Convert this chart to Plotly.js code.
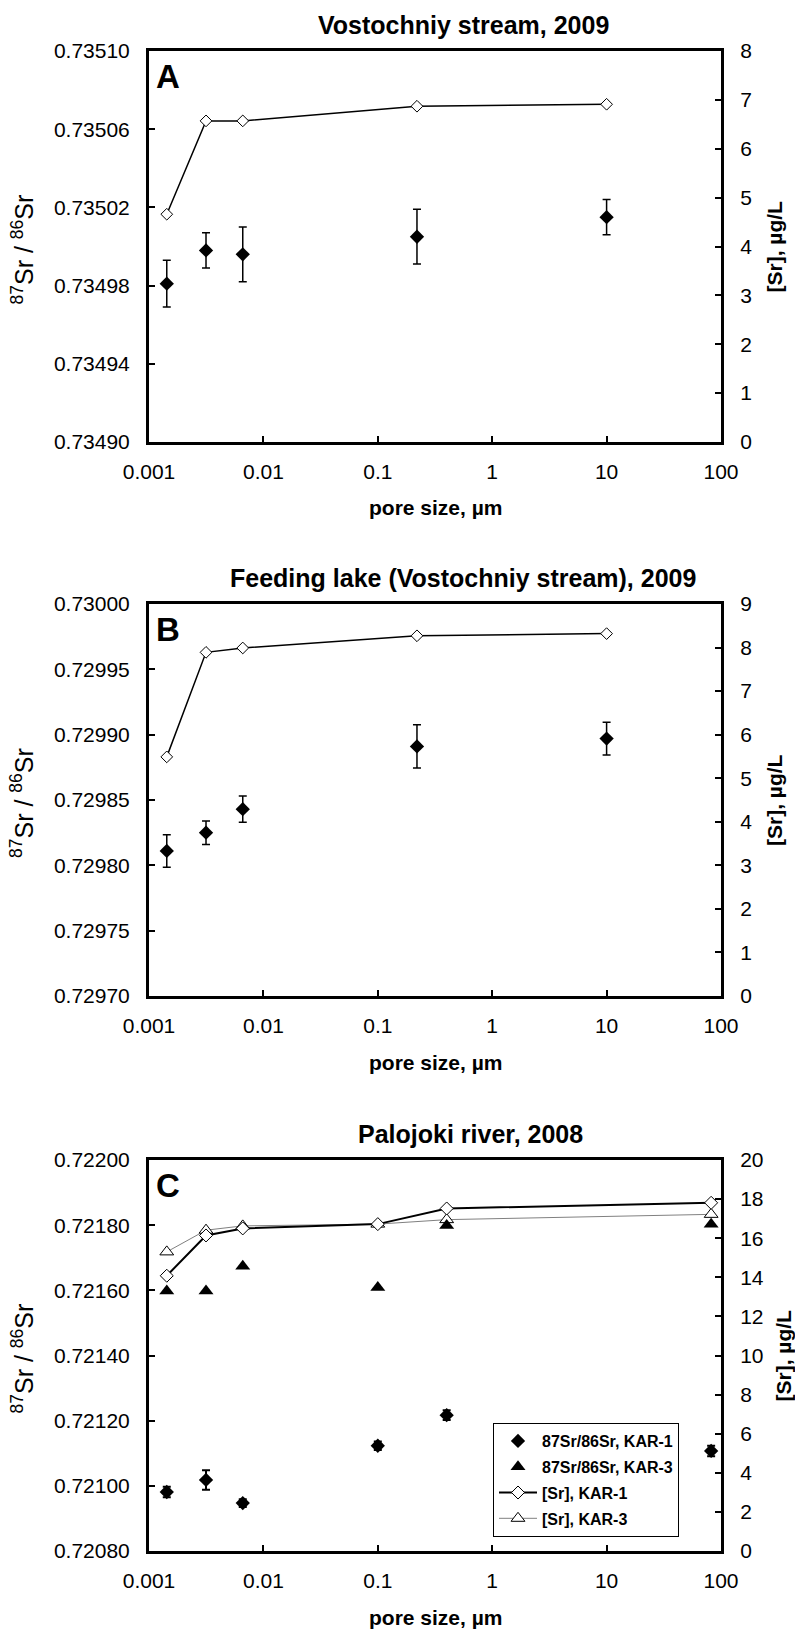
<!DOCTYPE html>
<html>
<head>
<meta charset="utf-8">
<script src="https://cdn.plot.ly/plotly-3.0.1.min.js"></script>
<style>html,body{margin:0;padding:0;background:#fff;}#chart{width:795px;height:1631px;}</style>
</head>
<body>
<div id="chart"></div>
<script>
// ---------- data ----------
const titles = ["Vostochniy stream, 2009", "Feeding lake (Vostochniy stream), 2009", "Palojoki river, 2008"];
const letters = ["A", "B", "C"];
const xTickVals = [0.001, 0.01, 0.1, 1, 10, 100];
const xTickText = ["0.001", "0.01", "0.1", "1", "10", "100"];

// Panel A
const poreA = [0.00143, 0.00315, 0.0066, 0.22, 10];
const ratioA = [0.734981, 0.734998, 0.734996, 0.735005, 0.735015];
const ratioErrA = [0.000012, 0.000009, 0.000014, 0.000014, 0.000009];
const srA = [4.66, 6.57, 6.57, 6.87, 6.91];

// Panel B
const poreB = [0.00143, 0.00315, 0.0066, 0.22, 10];
const ratioB = [0.729811, 0.729825, 0.729843, 0.729891, 0.729897];
const ratioErrB = [0.0000125, 0.000009, 0.000010, 0.0000165, 0.0000125];
const srB = [5.49, 7.89, 7.99, 8.27, 8.32];

// Panel C
const poreC = [0.00143, 0.00315, 0.0066, 0.1, 0.4, 82];
const ratioC1 = [0.720981, 0.721018, 0.720947, 0.721123, 0.721217, 0.721107];
const ratioErrC1 = [0.000016, 0.00003, 0.000012, 0.000013, 0.000015, 0.000016];
const ratioC3 = [0.721598, 0.721598, 0.721674, 0.721609, 0.721799, 0.721803];
const srC1 = [14.08, 16.14, 16.50, 16.72, 17.52, 17.81];
const srC3 = [15.30, 16.41, 16.63, 16.72, 16.95, 17.22];
const legendNames = ["87Sr/86Sr, KAR-1", "87Sr/86Sr, KAR-3", "[Sr], KAR-1", "[Sr], KAR-3"];

// Axis ranges / ticks
const ratioRanges = [[0.73490, 0.73510], [0.72970, 0.73000], [0.72080, 0.72200]];
const ratioDticks = [0.00004, 0.00005, 0.00020];
const srRanges = [[0, 8], [0, 9], [0, 20]];
const srDticks = [1, 1, 2];

// ---------- layout geometry (pixels) ----------
const W = 795, H = 1631;
const plotL = 149, plotR = 721;
const panels = [
  {top: 51, bot: 442, rTitleX: 774, titleX: 463},
  {top: 604, bot: 996, rTitleX: 774, titleX: 463},
  {top: 1160, bot: 1551, rTitleX: 783, titleX: 470}
];
const px = v => v / W;
const py = v => 1 - v / H;

const FONT = "Liberation Sans, Arial, sans-serif";
const layout = {
  width: W, height: H,
  margin: {l: 0, r: 0, t: 0, b: 0},
  paper_bgcolor: "#fff", plot_bgcolor: "rgba(0,0,0,0)",
  font: {family: FONT, color: "#000", size: 21},
  showlegend: true,
  legend: {
    x: px(493), y: py(1423), xanchor: "left", yanchor: "top",
    bordercolor: "#000", borderwidth: 1, bgcolor: "#fff",
    font: {family: FONT, size: 16, color: "#000", weight: "bold"},
    traceorder: "grouped", tracegroupgap: 2, itemwidth: 38
  },
  annotations: [],
  shapes: []
};

panels.forEach((p, i) => {
  const xName = i === 0 ? "xaxis" : "xaxis" + (i + 1);
  const xRef = i === 0 ? "x" : "x" + (i + 1);
  const srIdx = 2 * i + 1, rIdx = 2 * i + 2;
  const srName = srIdx === 1 ? "yaxis" : "yaxis" + srIdx;
  const srRef = srIdx === 1 ? "y" : "y" + srIdx;
  const rName = "yaxis" + rIdx;
  const dom = [py(p.bot), py(p.top)];
  layout[xName] = {
    domain: [px(plotL), px(plotR)], anchor: srRef,
    type: "log", range: [-3, 2], tickmode: "array", tickvals: xTickVals, ticktext: xTickText,
    ticks: "inside", ticklen: 6, tickwidth: 2, tickcolor: "#000",
    showline: true, linewidth: 3, linecolor: "#000", mirror: true,
    showgrid: false, zeroline: false, tickfont: {size: 21}, ticklabelstandoff: 9
  };
  layout[srName] = {
    domain: dom, anchor: xRef, side: "right",
    range: srRanges[i], tickmode: "linear", tick0: 0, dtick: srDticks[i],
    ticks: "inside", ticklen: 6, tickwidth: 2, tickcolor: "#000",
    showline: true, linewidth: 3, linecolor: "#000",
    showgrid: false, zeroline: false, tickfont: {size: 21}, ticklabelstandoff: 12
  };
  layout[rName] = {
    overlaying: srRef, anchor: xRef, side: "left",
    range: ratioRanges[i], tickmode: "linear", tick0: ratioRanges[i][0], dtick: ratioDticks[i],
    tickformat: ".5f",
    ticks: "inside", ticklen: 6, tickwidth: 2, tickcolor: "#000",
    showline: true, linewidth: 3, linecolor: "#000",
    showgrid: false, zeroline: false, tickfont: {size: 21}, ticklabelstandoff: 12
  };
  const midY = (p.top + p.bot) / 2;
  // panel title
  layout.annotations.push({xref: "paper", yref: "paper", x: px(p.titleX), y: py(p.top - 26),
    xanchor: "center", yanchor: "middle", showarrow: false,
    text: "<b>" + titles[i] + "</b>", font: {size: 25}});
  // panel letter
  layout.annotations.push({xref: "paper", yref: "paper", x: px(154), y: py(p.top + 5),
    xanchor: "left", yanchor: "top", showarrow: false,
    text: "<b>" + letters[i] + "</b>", font: {size: 33}});
  // x-axis title
  layout.annotations.push({xref: "paper", yref: "paper", x: px((plotL + plotR) / 2), y: py(p.bot + 66),
    xanchor: "center", yanchor: "middle", showarrow: false,
    text: "<b>pore size, µm</b>", font: {size: 21}});
  // left y title
  layout.annotations.push({xref: "paper", yref: "paper", x: px(22), y: py(midY + 3),
    xanchor: "center", yanchor: "middle", showarrow: false, textangle: -90,
    text: "<sup>87</sup>Sr / <sup>86</sup>Sr", font: {size: 25}});
  // right y title
  layout.annotations.push({xref: "paper", yref: "paper", x: px(p.rTitleX), y: py(midY),
    xanchor: "center", yanchor: "middle", showarrow: false, textangle: -90,
    text: "<b>[Sr], µg/L</b>", font: {size: 21}});
});

const errStyle = (arr, th) => ({type: "data", array: arr, visible: true, color: "#000", thickness: th, width: 4});
const filledDiamond = {symbol: "diamond", size: 11, color: "#000"};
const openDiamond = {symbol: "diamond", size: 9, color: "#fff", line: {color: "#000", width: 1}};

const traces = [
  // Panel A
  {x: poreA, y: srA, xaxis: "x", yaxis: "y", mode: "lines+markers", line: {color: "#000", width: 1.5},
   marker: openDiamond, showlegend: false},
  {x: poreA, y: ratioA, xaxis: "x", yaxis: "y2", mode: "markers", marker: filledDiamond,
   error_y: errStyle(ratioErrA, 1.5), showlegend: false},
  // Panel B
  {x: poreB, y: srB, xaxis: "x2", yaxis: "y3", mode: "lines+markers", line: {color: "#000", width: 1.5},
   marker: openDiamond, showlegend: false},
  {x: poreB, y: ratioB, xaxis: "x2", yaxis: "y4", mode: "markers", marker: filledDiamond,
   error_y: errStyle(ratioErrB, 1.5), showlegend: false},
  // Panel C
  {x: poreC, y: srC3, xaxis: "x3", yaxis: "y5", mode: "lines+markers", name: legendNames[3], legendgroup: "d", legendrank: 4,
   line: {color: "#808080", width: 1}, marker: {symbol: "triangle-up", size: 12, color: "#fff", line: {color: "#000", width: 1}}},
  {x: poreC, y: srC1, xaxis: "x3", yaxis: "y5", mode: "lines+markers", name: legendNames[2], legendgroup: "c", legendrank: 3,
   line: {color: "#000", width: 2}, marker: {symbol: "diamond", size: 10, color: "#fff", line: {color: "#000", width: 1}}},
  {x: poreC, y: ratioC3, xaxis: "x3", yaxis: "y6", mode: "markers", name: legendNames[1], legendgroup: "b", legendrank: 2,
   marker: {symbol: "triangle-up", size: 13, color: "#000"}},
  {x: poreC, y: ratioC1, xaxis: "x3", yaxis: "y6", mode: "markers", name: legendNames[0], legendgroup: "a", legendrank: 1,
   marker: {symbol: "diamond", size: 11, color: "#000"}, error_y: errStyle(ratioErrC1, 2)}
];

Plotly.newPlot("chart", traces, layout, {staticPlot: true, displayModeBar: false});
</script>
</body>
</html>
